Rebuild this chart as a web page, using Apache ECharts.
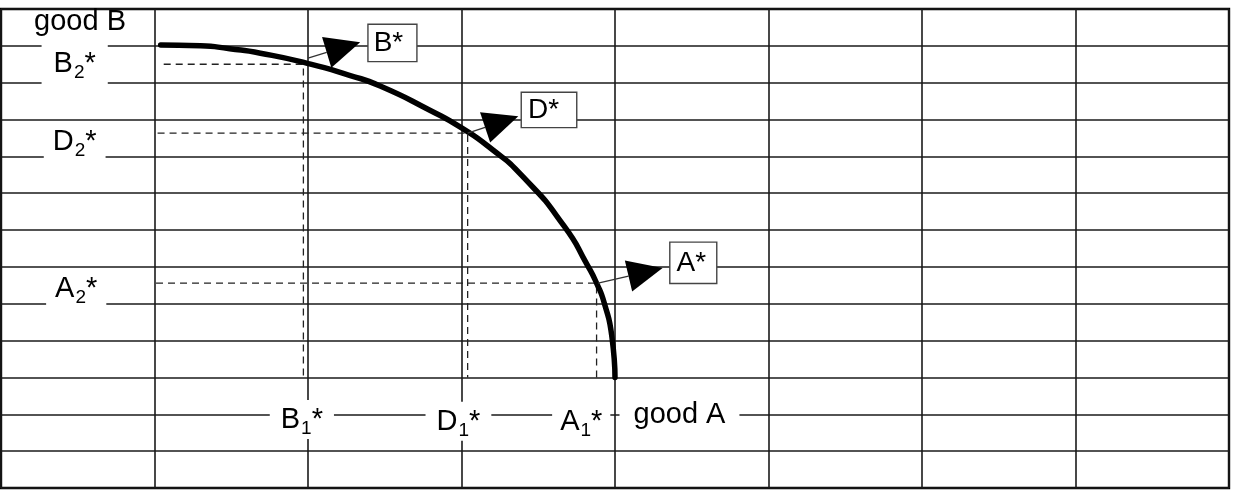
<!DOCTYPE html>
<html>
<head>
<meta charset="utf-8">
<script src="https://cdn.jsdelivr.net/npm/echarts@6/dist/echarts.min.js"></script>
<style>
html,body{margin:0;padding:0;background:#fff;}
#chart{width:1245px;height:492px;}
</style>
</head>
<body>
<div id="chart"></div>
<script>
// ---- data (in axis units: 8 columns x 13 rows) ----
var curvePoints = [
  [1.04, 12.02], [1.30, 12.00], [1.49, 11.92], [1.69, 11.80], [1.99, 11.53], [2.27, 11.20],
  [2.47, 10.91], [2.80, 10.24], [2.99, 9.80], [3.19, 9.22], [3.40, 8.45],
  [3.67, 7.10], [3.82, 6.05], [3.88, 5.56], [3.93, 5.02],
  [3.98, 4.10], [4.00, 3.00]
];
var pointNames = ['B', 'D', 'A'];
var pointX = [1.97, 3.04, 3.88];
var pointY = [11.50, 9.63, 5.56];
var dashStartX = [1.06, 1.02, 1.01];
var dashEndY = [3, 3, 3];

var axisLabelTexts = ['good B', 'B2*', 'D2*', 'A2*', 'B1*', 'D1*', 'A1*', 'good A'];
var axisLabelX = [0.515, 0.48, 0.48, 0.49, 1.96, 2.98, 3.78, 4.42];
var axisLabelY = [12.65, 11.50, 9.37, 5.38, 1.86, 1.81, 1.81, 1.99];

var calloutTexts = ['B*', 'D*', 'A*'];
var calloutX = [2.55, 3.57, 4.51];
var calloutY = [12.08, 10.26, 6.11];
var arrowStart = [[2.00, 11.67], [3.04, 9.63], [3.89, 5.56]];
var arrowTip = [[2.34, 12.10], [3.37, 10.09], [4.31, 5.97]];

var xTicksMax = 8, yTicksMax = 13;

// ---- styles ----
var FONT = 'Liberation Sans, Arial, sans-serif';
var rich = {
  m: {fontSize: 29, fontFamily: FONT, color: '#000', lineHeight: 30},
  s: {fontSize: 19, fontFamily: FONT, color: '#000', lineHeight: 19, padding: [17, 0, 0, 1]}
};
var paddings = [[0, 0, 0, 0], [5, 12, 5, 12], [1, 9, 2, 9], [1, 9, 2, 9],
                [5, 11, 4, 11], [5, 11, 4, 11], [5, 8, 4, 8], [8, 14, 7, 14]];
function fmt(t) {
  var m = t.match(/^([A-Z])(\d)\*$/);
  if (m) return '{m|' + m[1] + '}{s|' + m[2] + '}{m|*}';
  return '{m|' + t + '}';
}

var labelData = axisLabelTexts.map(function (t, i) {
  return {
    value: [axisLabelX[i], axisLabelY[i]],
    label: {
      show: true, position: 'inside', formatter: fmt(t), rich: rich, color: '#000', opacity: 1,
      backgroundColor: i === 0 ? 'transparent' : '#fff', padding: paddings[i]
    }
  };
});
var calloutPads = [[5, 13, 5, 5], [4, 17, 4, 6], [7, 10, 7, 6]];
var calloutData = calloutTexts.map(function (t, i) {
  return {
    value: [calloutX[i], calloutY[i]],
    label: {
      show: true, position: 'inside', formatter: t, opacity: 1,
      fontSize: 28, fontFamily: FONT, color: '#000', lineHeight: 26,
      backgroundColor: '#fff', borderColor: '#444', borderWidth: 1.4,
      padding: calloutPads[i]
    }
  };
});
var arrowData = arrowStart.map(function (s, i) {
  return [s[0], s[1], arrowTip[i][0], arrowTip[i][1]];
});

var series = [];
// dashed guide lines
pointNames.forEach(function (n, i) {
  series.push({
    type: 'line', symbol: 'none', z: 2, silent: true,
    data: [[dashStartX[i], pointY[i]], [pointX[i], pointY[i]], [pointX[i], dashEndY[i]]],
    lineStyle: {color: '#222', width: 1.3, type: [7, 5]}
  });
});
// curve
series.push({
  type: 'line', symbol: 'none', smooth: 0.6, z: 4, data: curvePoints,
  lineStyle: {color: '#000', width: 5.5, cap: 'round'}
});
// arrows
series.push({
  type: 'custom', z: 5, data: arrowData,
  encode: {x: [0, 2], y: [1, 3]},
  renderItem: function (params, api) {
    var s = api.coord([api.value(0), api.value(1)]);
    var t = api.coord([api.value(2), api.value(3)]);
    var dx = t[0] - s[0], dy = t[1] - s[1];
    var len = Math.sqrt(dx * dx + dy * dy);
    var ux = dx / len, uy = dy / len, L = 35, W = 16;
    var bx = t[0] - ux * L, by = t[1] - uy * L;
    return {
      type: 'group', children: [
        {type: 'line', shape: {x1: s[0], y1: s[1], x2: bx, y2: by},
         style: {stroke: '#333', lineWidth: 1.3}},
        {type: 'polygon', shape: {points: [[t[0], t[1]], [bx - uy * W, by + ux * W], [bx + uy * W, by - ux * W]]},
         style: {fill: '#000'}}
      ]
    };
  }
});
// axis labels with white boxes
series.push({type: 'scatter', symbolSize: 0, z: 6, itemStyle: {opacity: 1}, data: labelData});
// callout boxes
series.push({type: 'scatter', symbolSize: 0, z: 7, itemStyle: {opacity: 1}, data: calloutData});

var chart = echarts.init(document.getElementById('chart'), null, {renderer: 'canvas'});
chart.setOption({
  animation: false,
  backgroundColor: '#fff',
  grid: {left: 1, right: 16, top: 9, bottom: 4, show: true, borderColor: '#000', borderWidth: 2.4},
  xAxis: {
    type: 'value', min: 0, max: xTicksMax, interval: 1,
    axisLine: {show: false}, axisTick: {show: false}, axisLabel: {show: false},
    splitLine: {show: true, lineStyle: {color: '#1a1a1a', width: 1.6}}
  },
  yAxis: {
    type: 'value', min: 0, max: yTicksMax, interval: 1,
    axisLine: {show: false}, axisTick: {show: false}, axisLabel: {show: false},
    splitLine: {show: true, lineStyle: {color: '#1a1a1a', width: 1.6}}
  },
  series: series
});
</script>
</body>
</html>
